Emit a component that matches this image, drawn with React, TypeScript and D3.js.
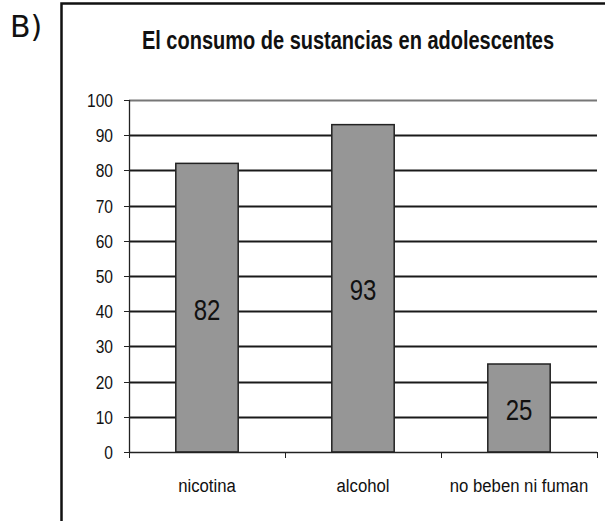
import React, { useEffect, useRef } from 'react';
import * as d3 from 'd3';

const categories = ['nicotina', 'alcohol', 'no beben ni fuman'];
const values = [82, 93, 25];
const yTicks = [0, 10, 20, 30, 40, 50, 60, 70, 80, 90, 100];
const title = 'El consumo de sustancias en adolescentes';
const panelLabel = 'B)';

const W = 605;
const H = 521;
const SANS = '"Liberation Sans", Arial, sans-serif';

type G = d3.Selection<SVGGElement, unknown, null, undefined>;

// no narrow font installed, so squeeze regular Arial-metric text horizontally
const narrowText = (parent: G, x: number, y: number, txt: string | number, size: number, sx: number, anchor: string, weight = 'normal') => {
  parent.append('g')
    .attr('transform', `translate(${x},${y}) scale(${sx},1)`)
    .append('text')
    .attr('text-anchor', anchor)
    .attr('font-family', SANS)
    .attr('font-weight', weight)
    .attr('font-size', size)
    .attr('fill', '#111')
    .text(txt);
};

const App: React.FC = () => {
  const svgRef = useRef<SVGSVGElement>(null);

  useEffect(() => {
    if (!svgRef.current) return;
    const svg = d3.select(svgRef.current);
    svg.selectAll('*').remove();

    const margin = { top: 100, left: 129, right: 8, bottom: 69 };
    const innerW = W - margin.left - margin.right;
    const innerH = H - margin.top - margin.bottom;

    svg.append('rect').attr('width', W).attr('height', H).attr('fill', '#fff');
    const root = svg.append('g') as unknown as G;

    // panel letter
    svg.append('text')
      .attr('x', 10)
      .attr('y', 37)
      .attr('font-family', '"DejaVu Sans", Verdana, sans-serif')
      .attr('font-size', 30)
      .attr('fill', '#111')
      .text(panelLabel);

    // frame (left + top edges only)
    svg.append('path')
      .attr('d', `M61.5,${H} L61.5,3.5 L${W},3.5`)
      .attr('fill', 'none')
      .attr('stroke', '#111')
      .attr('stroke-width', 2.5);

    narrowText(root, 348, 49, title, 25, 0.8, 'middle', 'bold');

    const g = svg.append('g').attr('transform', `translate(${margin.left},${margin.top})`) as unknown as G;

    const x = d3.scaleBand<string>().domain(categories).range([0, innerW]).paddingInner(0.6).paddingOuter(0.3);
    const xEdges = d3.scaleBand<string>().domain(categories).range([0, innerW]);
    const y = d3.scaleLinear().domain([0, 100]).range([innerH, 0]);

    // grid lines
    g.selectAll('.grid')
      .data(yTicks.filter(t => t > 0))
      .enter().append('line')
      .attr('x1', 0)
      .attr('x2', innerW)
      .attr('y1', d => Math.round(y(d)) + 0.5)
      .attr('y2', d => Math.round(y(d)) + 0.5)
      .attr('stroke', d => (d === 100 ? '#777' : '#1a1a1a'))
      .attr('stroke-width', 1.8);

    // bars
    g.selectAll('.bar')
      .data(values)
      .enter().append('rect')
      .attr('x', (d, i) => x(categories[i])!)
      .attr('width', x.bandwidth())
      .attr('y', d => y(d))
      .attr('height', d => innerH - y(d))
      .attr('fill', '#969696')
      .attr('stroke', '#222')
      .attr('stroke-width', 1.5);

    // value labels
    values.forEach((v, i) => {
      narrowText(g, x(categories[i])! + x.bandwidth() / 2, (y(v) + innerH) / 2 + 12, v, 30, 0.8, 'middle');
    });

    // y axis
    g.append('line')
      .attr('x1', 0.5).attr('x2', 0.5)
      .attr('y1', 0).attr('y2', innerH)
      .attr('stroke', '#222').attr('stroke-width', 1.3);
    g.selectAll('.ytick')
      .data(yTicks)
      .enter().append('line')
      .attr('x1', -5).attr('x2', 0)
      .attr('y1', d => Math.round(y(d)) + 0.5)
      .attr('y2', d => Math.round(y(d)) + 0.5)
      .attr('stroke', '#222');
    yTicks.forEach(t => narrowText(g, -16, y(t) + 7, t, 19, 0.82, 'end'));

    // x axis
    g.append('line')
      .attr('x1', 0).attr('x2', innerW)
      .attr('y1', innerH + 0.5).attr('y2', innerH + 0.5)
      .attr('stroke', '#222').attr('stroke-width', 1.3);
    const edges = categories.map(c => xEdges(c)!).concat([innerW]);
    g.selectAll('.xtick')
      .data(edges)
      .enter().append('line')
      .attr('x1', d => Math.round(d) + 0.5).attr('x2', d => Math.round(d) + 0.5)
      .attr('y1', innerH).attr('y2', innerH + 6)
      .attr('stroke', '#222');
    categories.forEach(c => {
      narrowText(g, xEdges(c)! + xEdges.bandwidth() / 2, innerH + 40, c, 19, 0.88, 'middle');
    });
  }, []);

  return (
    <svg
      ref={svgRef}
      width={W}
      height={H}
      style={{ position: 'absolute', left: 0, top: 0 }}
    />
  );
};

export default App;
